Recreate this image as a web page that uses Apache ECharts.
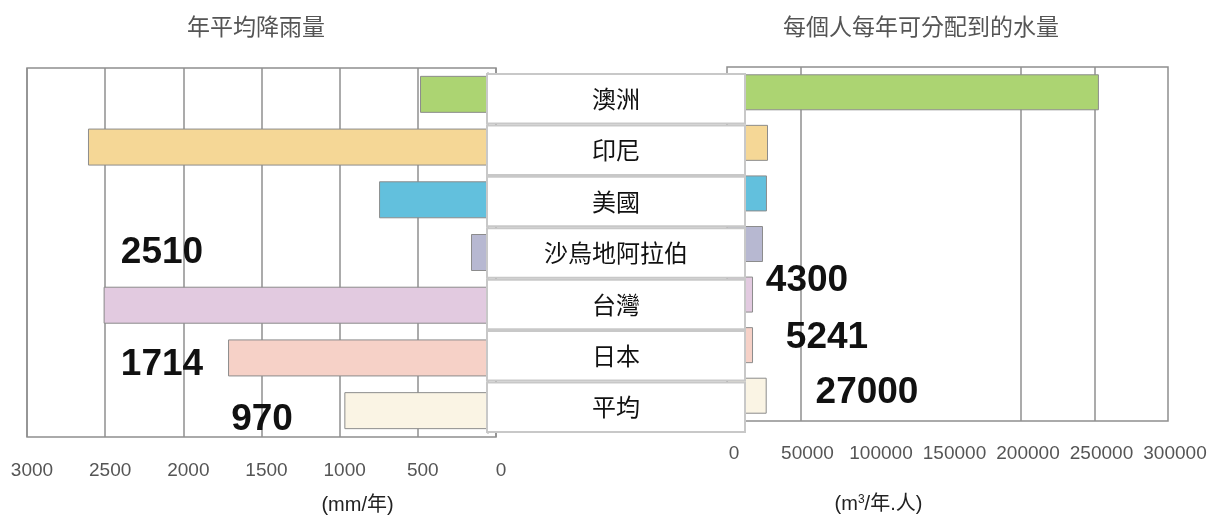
<!DOCTYPE html>
<html>
<head>
<meta charset="utf-8">
<script src="https://cdn.jsdelivr.net/npm/echarts@6/dist/echarts.min.js"></script>
<style>html,body{margin:0;padding:0;background:#fff}#c{width:1224px;height:520px}</style>
</head>
<body>
<div id="c"></div>
<script>
// ---- data ----
const categories = ['澳洲', '印尼', '美國', '沙烏地阿拉伯', '台灣', '日本', '平均'];
const rainfall = [486, 2610, 748, 160, 2510, 1714, 970];            // mm/年
const waterPerPerson = [253000, 27900, 27200, 24500, 17700, 17700, 27000]; // m3/年.人 (bar lengths as drawn)
const barColors = ['#acd472', '#f5d796', '#62c0dd', '#b7b8d1', '#e2cae0', '#f6d1c7', '#faf4e4'];
const rainTicks = { min: 0, max: 3000, interval: 500 };
const waterTicks = { min: 0, max: 300000, interval: 50000 };
const waterGridValues = [50000, 200000, 250000];
const leftNotes = ['2510', '1714', '970'];
const rightNotes = ['4300', '5241', '27000'];
const titles = ['年平均降雨量', '每個人每年可分配到的水量'];

const FONT = '"Liberation Sans", Arial, "Noto Sans CJK TC", sans-serif';
const CJK = '"Noto Sans CJK TC", "Noto Sans CJK SC", sans-serif';
const gridLineStyle = { color: '#8f8f8f', width: 1.5 };

const chart = echarts.init(document.getElementById('c'), null, { renderer: 'canvas' });

const noteStyle = { fontSize: 37, fontWeight: 'bold', fill: '#111', fontFamily: FONT };
const notePos = [[162, 253], [162, 365], [262, 420], [807, 281], [827, 338], [867, 393]];
const notesAll = leftNotes.concat(rightNotes);

chart.setOption({
  animation: false,
  title: [
    { text: titles[0], left: 251, top: 10, textAlign: 'center',
      textStyle: { fontSize: 23, fontWeight: 'normal', color: '#555', fontFamily: CJK } },
    { text: titles[1], left: 916, top: 10, textAlign: 'center',
      textStyle: { fontSize: 23, fontWeight: 'normal', color: '#555', fontFamily: CJK } }
  ],
  grid: [
    { left: 27, right: 728, top: 68, bottom: 82, show: true, borderColor: '#8f8f8f', borderWidth: 1.5, backgroundColor: '#fff' },
    { left: 727, right: 56, top: 67, bottom: 99, show: true, borderColor: '#8f8f8f', borderWidth: 1.5, backgroundColor: '#fff' },
    { left: 488, right: 476, top: 73, bottom: 87 }
  ],
  xAxis: [
    { gridIndex: 0, type: 'value', inverse: true, min: rainTicks.min, max: rainTicks.max, interval: rainTicks.interval,
      axisLine: { show: false }, axisTick: { show: false },
      splitLine: { show: true, lineStyle: gridLineStyle },
      axisLabel: { color: '#555', fontSize: 19, fontFamily: FONT, margin: 24, padding: [0, 0, 0, 10],
        formatter: v => String(v) },
      name: '(mm/年)', nameLocation: 'middle', nameGap: 58,
      nameTextStyle: { color: '#222', fontSize: 20, fontFamily: FONT, padding: [0, 0, 0, 192] } },
    { gridIndex: 1, type: 'value', min: waterTicks.min, max: waterTicks.max, interval: waterTicks.interval,
      axisLine: { show: false }, axisTick: { show: false },
      splitLine: { show: false },
      axisLabel: { color: '#555', fontSize: 19, fontFamily: FONT, margin: 23, padding: [0, 0, 0, 14],
        formatter: v => String(v) },
      name: '(m{sup|3}/年.人)', nameLocation: 'middle', nameGap: 73,
      nameTextStyle: { color: '#222', fontSize: 20, fontFamily: FONT, padding: [0, 138, 0, 0],
        rich: { sup: { fontSize: 12, verticalAlign: 'top', padding: [0, 0, 8, 0], color: '#222' } } } },
    { gridIndex: 2, type: 'value', min: 0, max: 1, show: false }
  ],
  yAxis: [
    { gridIndex: 0, type: 'category', data: categories, inverse: true, show: false },
    { gridIndex: 1, type: 'category', data: categories, inverse: true, show: false },
    { gridIndex: 2, type: 'category', data: categories, inverse: true, z: 10,
      axisLine: { show: true, lineStyle: { color: '#c8c8c8', width: 2 } }, axisTick: { show: false },
      axisLabel: {
        inside: true, margin: 0,
        formatter: v => '{b|' + v + '}',
        rich: { b: { width: 256, height: 47.5, lineHeight: 47.5, align: 'center', verticalAlign: 'middle',
          backgroundColor: '#fff', borderColor: '#c8c8c8', borderWidth: 2,
          fontSize: 24, color: '#111', fontFamily: CJK } }
      } }
  ],
  series: [
    { type: 'bar', xAxisIndex: 0, yAxisIndex: 0, barWidth: 37, z: 2,
      itemStyle: { borderColor: '#8c8c8c', borderWidth: 1 },
      data: rainfall.map((v, i) => ({ value: v, itemStyle: { color: barColors[i] } })) },
    { type: 'bar', xAxisIndex: 1, yAxisIndex: 1, barWidth: 36, z: 2,
      itemStyle: { borderColor: '#8c8c8c', borderWidth: 1 },
      data: waterPerPerson.map((v, i) => ({ value: v, itemStyle: { color: barColors[i] } })),
      markLine: { z: 1, silent: true, symbol: 'none', label: { show: false },
        lineStyle: { color: '#8f8f8f', width: 1.5, type: 'solid' },
        data: waterGridValues.map(v => ({ xAxis: v })) } }
  ],
  graphic: notesAll.map((t, i) => ({
    type: 'text', x: notePos[i][0], y: notePos[i][1], z: 20,
    style: Object.assign({ text: t, textAlign: 'center', textVerticalAlign: 'middle' }, noteStyle)
  }))
});
</script>
</body>
</html>
